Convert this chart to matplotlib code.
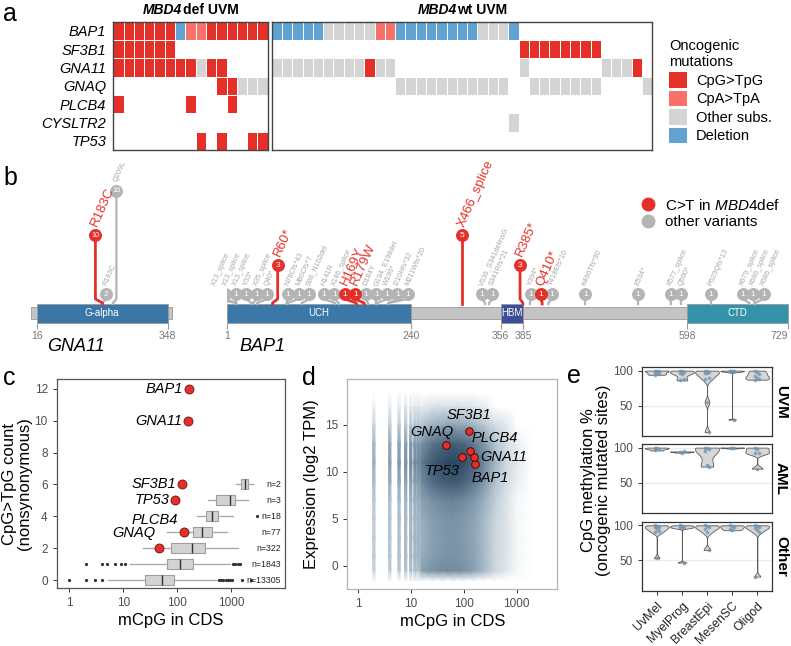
import numpy as np
import matplotlib
matplotlib.use("Agg")
import matplotlib.pyplot as plt
from matplotlib.colors import ListedColormap, LinearSegmentedColormap
from matplotlib.patches import Patch, Rectangle
from matplotlib.lines import Line2D

plt.rcParams.update({
    "font.family": ["Liberation Sans", "DejaVu Sans"],
    "mathtext.fontset": "custom",
    "mathtext.it": "Liberation Sans:italic",
    "mathtext.rm": "Liberation Sans",
    "mathtext.bf": "Liberation Sans:bold",
})

W, H = 791, 646

# %% data -------------------------------------------------------------
# panel a: oncoprint (R=CpG>TpG, L=CpA>TpA, G=other subs., B=deletion)
onco_genes = ["BAP1", "SF3B1", "GNA11", "GNAQ", "PLCB4", "CYSLTR2", "TP53"]
onco_def = [
    "RRRRRRBLLRRRRRR",
    "RRRRRR.........",
    "RRRRRRRRGRR....",
    "..........RRGGG",
    "R......R...R...",
    "...............",
    "........R.R..RR",
]
onco_wt = [
    "BBBBBGGGGGLLBBBBBBBBGGGB.............",
    "........................RRRRRRRR.....",
    "GGGGGGGGGRGG............G.......GGGR.",
    "............GGGGGGGGGGG..GGGGGGG....G",
    ".....................................",
    ".......................G.............",
    ".....................................",
]
onco_codes = ["R", "L", "G", "B"]
onco_labels = ["CpG>TpG", "CpA>TpA", "Other subs.", "Deletion"]

# panel b: lollipops
gna11_len = 359
gna11_domains = [("G-alpha", 16, 348)]
gna11_pos = [183, 183, 209]
gna11_cnt = [10, 2, 16]
gna11_lab = ["R183C", "R183C", "Q209L"]
gna11_red = [True, False, False]

bap1_len = 729
bap1_domains = [("UCH", 1, 240), ("HBM", 356, 385), ("CTD", 598, 729)]
bap1_lab = ["X13_splice", "X13_splice", "X13_splice", "Y33*", "X35_splice", "Q40*", "R60*",
            "N78Cfs*43", "M80Cfs*7", "S98_N102del",
            "H141R", "X146_splice", "H169Y", "R179W", "D184Y", "G194_E198del", "W196*",
            "I210Hfs*32", "M211Wfs*20",
            "X466_splice", "V336_S341delinsG", "S341Rfs*21",
            "R385*", "Y394*", "Q410*", "Y418Efs*10", "K466Tfs*90", "E534*",
            "X577_splice", "Q590*", "P629Qfs*13", "X679_splice", "X686_splice", "X686_splice"]
bap1_pos = [13, 13, 13, 33, 35, 40, 60, 78, 80, 98,
            141, 146, 169, 179, 184, 194, 196, 210, 211,
            306, 336, 341,
            385, 394, 410, 418, 466, 534, 577, 590, 629, 679, 686, 686]
bap1_cnt = [1, 1, 1, 1, 1, 1, 3, 1, 1, 1,
            1, 1, 1, 1, 1, 1, 1, 1, 1,
            5, 1, 1,
            3, 1, 1, 1, 1, 1, 1, 1, 1, 1, 1, 1]
bap1_red = ["R60*", "H169Y", "R179W", "X466_splice", "R385*", "Q410*"]

# panel c / d: highlighted genes
hl_genes = ["BAP1", "GNA11", "SF3B1", "TP53", "PLCB4", "GNAQ"]
hl_mcpg = [165, 160, 125, 92, 134, 46]
hl_ctpg = [12, 10, 6, 5, 3, 2]
hl_expr = [10.85, 11.6, 14.4, 11.6, 12.27, 12.9]

# panel c: boxplots of mCpG per CpG>TpG count
box_count = [0, 1, 2, 3, 4, 5, 6]
box_n = [13305, 1843, 322, 77, 18, 3, 2]
box_q1 = [25, 64, 76, 200, 350, 530, 1520]
box_med = [52, 113, 187, 294, 440, 960, 1820]
box_q3 = [89, 195, 330, 440, 585, 1200, 2120]
box_lo = [5.3, 13.3, 23.5, 64, 230, 380, 1270]
box_hi = [544, 962, 1370, 830, 1100, 2100, 2600]
box_fliers = [
    [1, 2, 3, 4, 600, 650, 720, 800, 880, 960, 1050, 1600, 2400],
    [2, 4, 5, 7, 9, 11, 1100, 1200, 1350, 1500],
    [], [], [3000], [], [],
]

# panel d: density of all genes (log10 mCpG columns x expression rows)
d_logx = [1.05, 1.2, 1.4, 1.6, 1.8, 2.0, 2.2, 2.4, 2.6, 2.8, 3.0, 3.3]
d_expr = [-1.6, -0.5, 1, 3, 5, 7, 9, 11, 13, 15, 17, 18.5]
d_density = [
    [0, 0, 0, 0, 0, 0, 0, 0, 0, 0, 0, 0],
    [0, .40, .50, .55, .55, .50, .40, .25, .10, .03, .01, 0],
    [0, .32, .42, .48, .50, .46, .38, .25, .10, .04, .01, 0],
    [0, .30, .40, .46, .48, .44, .36, .24, .10, .04, .01, 0],
    [0, .32, .42, .48, .50, .45, .38, .25, .12, .04, .01, 0],
    [0, .40, .50, .58, .60, .55, .45, .30, .15, .05, .01, 0],
    [0, .55, .75, .85, .88, .82, .68, .45, .22, .08, .02, 0],
    [0, .65, .85, .95, 1.0, .95, .80, .55, .28, .10, .03, 0],
    [0, .50, .70, .80, .85, .80, .65, .45, .20, .08, .02, 0],
    [0, .20, .30, .35, .38, .35, .28, .18, .08, .03, 0, 0],
    [0, .02, .04, .05, .05, .04, .03, .02, 0, 0, 0, 0],
    [0, 0, 0, 0, 0, 0, 0, 0, 0, 0, 0, 0],
]
stripe_x = [2, 4, 6, 8, 10, 12, 14]
stripe_w = [0.35, 0.45, 0.5, 0.55, 0.6, 0.62, 0.62]
stripe_profile = [0, .35, .45, .45, .45, .5, .7, .9, .75, .35, .05, 0]

# panel e: methylation at oncogenic mutated sites
cell_types = ["UvMel", "MyelProg", "BreastEpi", "MesenSC", "Oligod"]
facets = ["UVM", "AML", "Other"]
meth_uvm = [[100, 100, 99, 98, 96, 95, 94],
            [100, 99, 98, 97, 95, 88, 86],
            [100, 99, 98, 97, 96, 90, 88, 55, 12],
            [100, 100, 99, 99, 98, 30],
            [100, 98, 95, 92, 90, 88, 87]]
meth_aml = [[100, 99, 98, 96],
            [94, 93, 94.5],
            [100, 99, 98, 95, 75, 73],
            [100, 99, 100],
            [100, 98, 93, 92, 70]]
meth_other = [[100, 99, 98, 97, 95, 92, 90, 53],
              [100, 99, 98, 97, 96, 47],
              [100, 99, 97, 95, 90, 65],
              [100, 99, 97, 95, 93],
              [100, 99, 98, 96, 94, 90, 27]]

# %% style --------------------------------------------------------------
RED = "#E5302A"
LRED = "#F8716A"
GREY = "#D4D4D4"
BLUE = "#60A2D2"
LOLLI_GREY = "#B4B4B4"
TICKC = "#4D4D4D"


def box(x0, y0, x1, y1):
    return [x0 / W, 1 - y1 / H, (x1 - x0) / W, (y1 - y0) / H]


fig = plt.figure(figsize=(W / 100, H / 100), dpi=100)
renderer = fig.canvas.get_renderer()

# %% panel a ------------------------------------------------------------
cmap_onco = ListedColormap([RED, LRED, GREY, BLUE])


def draw_onco(ax, rows):
    mat = np.array([[onco_codes.index(c) + 1 if c != "." else 0 for c in r] for r in rows], float)
    mat = np.ma.masked_equal(mat, 0)
    nr, nc = mat.shape
    ax.pcolormesh(np.arange(nc + 1), np.arange(nr + 1), mat, cmap=cmap_onco,
                  vmin=0.5, vmax=4.5, edgecolors="white", linewidth=0.7)
    ax.set_xlim(0, nc)
    ax.set_ylim(nr, 0)
    ax.set_xticks([])
    for s in ax.spines.values():
        s.set_color("#444444")
        s.set_linewidth(1.0)


ax_a1 = fig.add_axes(box(113.3, 21.7, 267.7, 150))
ax_a2 = fig.add_axes(box(271.7, 21.7, 652.3, 150))
draw_onco(ax_a1, onco_def)
draw_onco(ax_a2, onco_wt)
ax_a1.set_yticks(np.arange(len(onco_genes)) + 0.5)
ax_a1.set_yticklabels(onco_genes, fontsize=10.5, style="italic")
ax_a1.tick_params(axis="y", length=0, pad=5)
ax_a2.set_yticks([])


def two_part_title(ax, part1, part2, y_px):
    t1 = fig.text(0, 0, part1, fontsize=10, fontweight="bold", style="italic", va="center")
    t2 = fig.text(0, 0, part2, fontsize=10, fontweight="bold", va="center")
    w1 = t1.get_window_extent(renderer).width
    w2 = t2.get_window_extent(renderer).width
    bb = ax.get_position()
    cx = (bb.x0 + bb.x1) / 2 * W
    x1 = cx - (w1 + w2) / 2
    t1.set_position((x1 / W, 1 - y_px / H))
    t2.set_position(((x1 + w1 + 0.5) / W, 1 - y_px / H))


two_part_title(ax_a1, "MBD4", "def UVM", 10)
two_part_title(ax_a2, "MBD4", "wt UVM", 10)

fig.legend([Patch(facecolor=c, edgecolor="none") for c in [RED, LRED, GREY, BLUE]],
           onco_labels, title="Oncogenic\nmutations", loc="upper left",
           bbox_to_anchor=(656 / W, 1 - 26 / H), frameon=False, fontsize=10.5,
           title_fontsize=10.5, handlelength=1.25, handleheight=1.25,
           handletextpad=0.6, labelspacing=0.2, alignment="left")

# %% panel b ------------------------------------------------------------
DOM_COL = {"G-alpha": "#3A77A6", "UCH": "#3A78A9", "HBM": "#3C4F99", "CTD": "#3493A8"}


def dodge(pos, gap):
    order = sorted(range(len(pos)), key=lambda i: pos[i])
    clusters = [[i] for i in order]

    def start(c):
        return np.mean([pos[i] for i in c]) - (len(c) - 1) * gap / 2

    merged = True
    while merged:
        merged = False
        for k in range(len(clusters) - 1):
            a, b = clusters[k], clusters[k + 1]
            if start(b) - (start(a) + (len(a) - 1) * gap) < gap * 0.999:
                clusters[k] = a + b
                del clusters[k + 1]
                merged = True
                break
    out = np.zeros(len(pos))
    for c in clusters:
        s = start(c)
        for j, i in enumerate(c):
            out[i] = s + j * gap
    return out


def protein(ax, length, domains, pos, cnt, lab, red, step, ax_w_px):
    ax.set_xlim(1, length)
    ax.set_ylim(-14, 149)
    for s in ax.spines.values():
        s.set_visible(False)
    ax.set_yticks([])
    ax.add_patch(Rectangle((1, -10), length - 1, 12, facecolor="#C4C4C4",
                           edgecolor="#9A9A9A", lw=0.6, zorder=1, clip_on=False))
    ticks = []
    for name, a, b in domains:
        ax.add_patch(Rectangle((a, -14), b - a, 19, facecolor=DOM_COL[name],
                               edgecolor="#9A9A9A", lw=0.6, zorder=2, clip_on=False))
        ax.text((a + b) / 2, -4.5, name, color="white", fontsize=7, ha="center",
                va="center", zorder=3)
        ticks += [a, b]
    ax.set_xticks(ticks)
    ax.set_xticklabels([str(t) for t in ticks])
    ax.tick_params(axis="x", length=4, width=0.8, color="#9A9A9A", labelsize=7.5,
                   labelcolor="#777777", pad=1.5)
    ppa = ax_w_px / (length - 1)
    cx = dodge(pos, 10.5 / ppa)
    for i in range(len(pos)):
        col = RED if red[i] else LOLLI_GREY
        cy = cnt[i] * step
        z = 4 if red[i] else 3
        ax.plot([pos[i], pos[i], cx[i], cx[i]], [5, 6, 10, cy], color=col,
                lw=2.0 if red[i] else 1.6, zorder=z, solid_joinstyle="round")
        ax.plot(cx[i], cy, "o", ms=8.3, mfc=col, mec=col, zorder=z + 2)
        ax.text(cx[i], cy - 0.3, str(cnt[i]), color="white",
                fontsize=6 if cnt[i] < 10 else 5.3, ha="center", va="center", zorder=z + 3)
        if red[i]:
            ax.text(cx[i] - 1 / ppa, cy + 9, lab[i], color=RED, fontsize=9.5,
                    rotation=66, rotation_mode="anchor", ha="left", va="center", zorder=8)
        else:
            ax.text(cx[i] - 1 / ppa, cy + 9, lab[i], color="#A8A8A8", fontsize=5.3,
                    rotation=66, rotation_mode="anchor", ha="left", va="center", zorder=8)
    return ax.get_xticklabels()


ax_g = fig.add_axes(box(30.6, 160, 172, 323))
ax_b = fig.add_axes(box(227, 160, 788, 323))
ax_g.patch.set_alpha(0)
ax_b.patch.set_alpha(0)
protein(ax_g, gna11_len, gna11_domains, gna11_pos, gna11_cnt, gna11_lab, gna11_red,
        7.4, 141.4)
bap1_ticklabels = protein(ax_b, bap1_len, bap1_domains, bap1_pos, bap1_cnt, bap1_lab,
                          [l in bap1_red for l in bap1_lab], 14.75, 561)
bap1_ticklabels[-1].set_horizontalalignment("right")
ax_g.text(0.12, -0.09, "GNA11", transform=ax_g.transAxes, fontsize=13, style="italic",
          va="top")
ax_b.text(0.023, -0.09, "BAP1", transform=ax_b.transAxes, fontsize=13, style="italic",
          va="top")

fig.legend([Line2D([], [], marker="o", ls="", ms=9, mfc=RED, mec=RED),
            Line2D([], [], marker="o", ls="", ms=9, mfc=LOLLI_GREY, mec=LOLLI_GREY)],
           [r"C>T in $\mathit{MBD4}$def", "other variants"], loc="upper left",
           bbox_to_anchor=(627 / W, 1 - 184 / H), frameon=False, fontsize=11,
           handlelength=1.0, handletextpad=0.6, labelspacing=0.15)


def style_axes(ax, spine_col):
    for s in ax.spines.values():
        s.set_color(spine_col)
        s.set_linewidth(0.9)
    ax.tick_params(labelsize=8.5, labelcolor=TICKC, color="#333333", length=3, width=0.7)
    ax.minorticks_off()


# %% panel c ------------------------------------------------------------
ax_c = fig.add_axes(box(56.7, 379.3, 284.7, 588.3))
stats = [dict(med=m, q1=a, q3=b, whislo=lo, whishi=hi, fliers=f)
         for m, a, b, lo, hi, f in zip(box_med, box_q1, box_q3, box_lo, box_hi, box_fliers)]
ax_c.bxp(stats, positions=box_count, orientation="horizontal", widths=0.62,
         patch_artist=True, showcaps=False, manage_ticks=False,
         boxprops=dict(facecolor="#D3D3D3", edgecolor="#9E9E9E", lw=0.8),
         medianprops=dict(color="#333333", lw=1.0),
         whiskerprops=dict(color="#A6A6A6", lw=0.9),
         flierprops=dict(marker="o", ms=1.3, mfc="#333333", mec="#333333"))
ax_c.set_xscale("log")
ax_c.set_xlim(0.58, 10000)
ax_c.set_ylim(-0.52, 12.6)
ax_c.set_xticks([1, 10, 100, 1000])
ax_c.set_xticklabels(["1", "10", "100", "1000"])
ax_c.set_yticks(range(0, 13, 2))
ax_c.set_yticklabels([str(v) for v in range(0, 13, 2)])
style_axes(ax_c, "#555555")
for yv, n in zip(box_count, box_n):
    ax_c.text(0.985, yv, f"n={n}", transform=ax_c.get_yaxis_transform(), ha="right",
              va="center", fontsize=6.3, color="#222222")
ax_c.scatter(hl_mcpg, hl_ctpg, s=42, color=RED, edgecolor="#6B1010", lw=0.6, zorder=5)
c_off = {"BAP1": (-6, 0), "GNA11": (-6, 0), "SF3B1": (-6, 0), "TP53": (-6, 0),
         "PLCB4": (-6, 12), "GNAQ": (-4, 15)}
for g, x, y in zip(hl_genes, hl_mcpg, hl_ctpg):
    ax_c.annotate(g, (x, y), xytext=c_off[g], textcoords="offset pixels", ha="right",
                  va="center", fontsize=10.5, style="italic")
ax_c.set_xlabel("mCpG in CDS", fontsize=12, labelpad=3)
ax_c.set_ylabel("CpG>TpG count\n(nonsynonymous)", fontsize=12, labelpad=2, linespacing=1.0)

# %% panel d ------------------------------------------------------------
ax_d = fig.add_axes(box(347.3, 379.3, 557.3, 589))
ax_d.set_xscale("log")
cloud_cmap = LinearSegmentedColormap.from_list(
    "cloud", [(0, (1, 1, 1)), (0.03, (0.87, 0.9, 0.92)), (0.35, (0.57, 0.66, 0.73)),
              (1, (0.17, 0.28, 0.38))])
X, Y = np.meshgrid(10 ** np.array(d_logx), d_expr)
ax_d.pcolormesh(X, Y, np.array(d_density), shading="gouraud", cmap=cloud_cmap,
                vmin=0, vmax=1, zorder=1)
for s, w in zip(stripe_x, stripe_w):
    Xs, Ys = np.meshgrid([s * 10 ** -0.022, s * 10 ** 0.022], d_expr)
    prof = np.array(stripe_profile) * w
    ax_d.pcolormesh(Xs, Ys, np.column_stack([prof, prof]), shading="gouraud",
                    cmap=cloud_cmap, vmin=0, vmax=1, zorder=1)
ax_d.set_xlim(0.63, 5900)
ax_d.set_ylim(-2.45, 19.86)
ax_d.set_xticks([1, 10, 100, 1000])
ax_d.set_xticklabels(["1", "10", "100", "1000"])
ax_d.set_yticks([0, 5, 10, 15])
style_axes(ax_d, "#B5B5B5")
ax_d.scatter(hl_mcpg, hl_expr, s=30, color=RED, edgecolor="#4A0A0A", lw=0.7, zorder=5)
d_off = {"SF3B1": (0, 9, "center", "bottom"), "GNAQ": (-14, 6, "center", "bottom"),
         "PLCB4": (1, 6, "left", "bottom"), "GNA11": (6, 0, "left", "center"),
         "TP53": (-2, -7, "right", "top"), "BAP1": (-4, -7, "left", "top")}
for g, x, y in zip(hl_genes, hl_mcpg, hl_expr):
    dx, dy, ha, va = d_off[g]
    ax_d.annotate(g, (x, y), xytext=(dx, dy), textcoords="offset pixels", ha=ha, va=va,
                  fontsize=10.5, style="italic", zorder=6)
ax_d.set_xlabel("mCpG in CDS", fontsize=12, labelpad=3)
ax_d.set_ylabel("Expression (log2 TPM)", fontsize=12, labelpad=4)


# %% panel e ------------------------------------------------------------
def nrd0(kde):
    x = np.asarray(kde.dataset).ravel()
    sd = x.std(ddof=1)
    iqr = np.subtract(*np.percentile(x, [75, 25]))
    lo = min(sd, iqr / 1.34)
    if lo <= 0:
        lo = sd
    return 0.9 * lo * len(x) ** -0.2 / sd


e_boxes = [box(641.7, 367.3, 772.3, 436), box(641.7, 444.3, 772.3, 513.3),
           box(641.7, 522, 772.3, 591)]
for k, (name, vals) in enumerate(zip(facets, [meth_uvm, meth_aml, meth_other])):
    ax = fig.add_axes(e_boxes[k])
    pos = np.arange(1, len(cell_types) + 1)
    for gy in [50, 100]:
        ax.axhline(gy, color="#EBEBEB", lw=1.0, zorder=0)
    vp = ax.violinplot(vals, positions=pos, widths=0.95, showextrema=False,
                       bw_method=nrd0)
    for body in vp["bodies"]:
        body.set_facecolor("#D6D6D6")
        body.set_edgecolor("#5A5A5A")
        body.set_linewidth(0.6)
        body.set_alpha(1)
        body.set_zorder(2)
    for p, v in zip(pos, vals):
        jit = ((np.arange(len(v)) % 3) - 1) * 0.07
        ax.scatter(p + jit, v, s=7, color="#6D93B1", alpha=0.75, lw=0, zorder=3)
    ax.set_xlim(0.4, 5.6)
    ax.set_ylim(6.5, 104.7)
    ax.set_yticks([50, 100])
    ax.set_xticks(pos)
    style_axes(ax, "#333333")
    if k < 2:
        ax.set_xticklabels([])
        ax.tick_params(axis="x", length=0)
    else:
        ax.set_xticklabels(cell_types, rotation=45, ha="right", rotation_mode="anchor",
                           fontsize=8.8, color="#222222")
    ax.text(1.067, 0.5, name, transform=ax.transAxes, rotation=-90, fontsize=11,
            fontweight="bold", ha="center", va="center")
fig.text(596 / W, 1 - 480 / H, "CpG methylation %\n(oncogenic mutated sites)",
         rotation=90, fontsize=12, ha="center", va="center", linespacing=1.0)

# %% panel letters ------------------------------------------------------
for letter, x, y in [("a", 3, 14), ("b", 3, 178), ("c", 3, 378), ("d", 302, 378),
                     ("e", 567, 376)]:
    fig.text(x / W, 1 - y / H, letter, fontsize=18, va="center", ha="left")

fig.savefig("out.png", dpi=100)
